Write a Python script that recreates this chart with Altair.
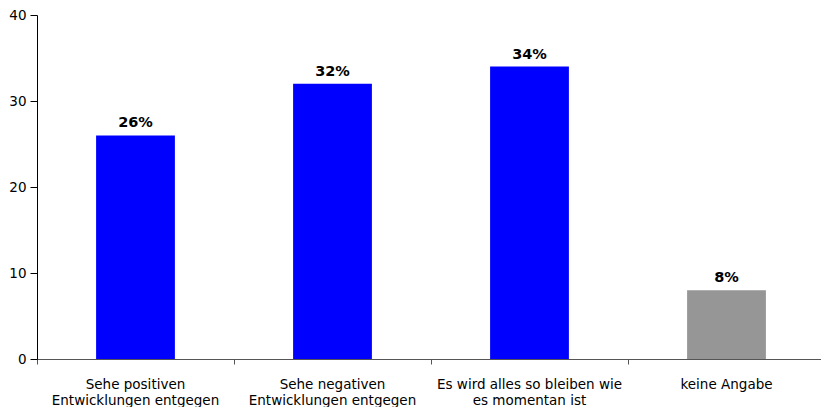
import altair as alt
import pandas as pd

categories = [
    "Sehe positiven|Entwicklungen entgegen",
    "Sehe negativen|Entwicklungen entgegen",
    "Es wird alles so bleiben wie|es momentan ist",
    "keine Angabe",
]
values = [26, 32, 34, 8]
labels = ["26%", "32%", "34%", "8%"]
colors = ["#0000FF", "#0000FF", "#0000FF", "#969696"]

df = pd.DataFrame({"cat": categories, "val": values, "lab": labels, "col": colors})

FONT = "DejaVu Sans"
bar_scale = alt.Scale(paddingInner=0.6, paddingOuter=0.3)

x = alt.X(
    "cat:N",
    sort=categories,
    title=None,
    scale=bar_scale,
    axis=alt.Axis(
        orient="bottom",
        labelAngle=0,
        labelExpr="split(datum.label, '|')",
        labelFont=FONT,
        labelFontSize=13.5,
        labelColor="#000000",
        labelPadding=18,
        labelLineHeight=16,
        labelLimit=400,
        ticks=False,
        domainColor="#555555",
        domainWidth=1,
    ),
)

y = alt.Y(
    "val:Q",
    title=None,
    scale=alt.Scale(domain=[0, 40]),
    axis=alt.Axis(
        values=[0, 10, 20, 30, 40],
        grid=False,
        labelFont=FONT,
        labelFontSize=13.5,
        labelColor="#000000",
        tickSize=7,
        tickColor="#000000",
        domainColor="#000000",
        labelPadding=4,
    ),
)

bars = alt.Chart(df).mark_bar().encode(
    x=x,
    y=y,
    color=alt.Color("col:N", scale=None),
)

text = alt.Chart(df).mark_text(
    font=FONT, fontSize=14.5, fontWeight="bold", dy=-8, baseline="alphabetic", color="#000000"
).encode(
    x=alt.X("cat:N", sort=categories, scale=bar_scale),
    y="val:Q",
    text="lab:N",
)

main = alt.layer(bars, text)

# category separators on the x axis (ticks at band boundaries)
sep = alt.Chart(df).mark_rule(opacity=0).encode(
    x=alt.X(
        "cat:N",
        sort=categories,
        title=None,
        scale=alt.Scale(paddingInner=0, paddingOuter=0),
        axis=alt.Axis(
            orient="bottom",
            labels=False,
            domain=False,
            bandPosition=0,
            tickSize=5,
            tickColor="#555555",
        ),
    ),
    y=alt.value(344),
    y2=alt.value(344),
)

chart = (
    alt.layer(main, sep)
    .resolve_scale(x="independent")
    .properties(
        width=788,
        height=344,
        autosize=alt.AutoSizeParams(type="none"),
        padding={"left": 37, "top": 15, "right": -4, "bottom": 48},
        background="#ffffff",
    )
    .configure_view(stroke=None)
)

chart.save("out.html", embed_options={"renderer": "svg", "actions": False})
